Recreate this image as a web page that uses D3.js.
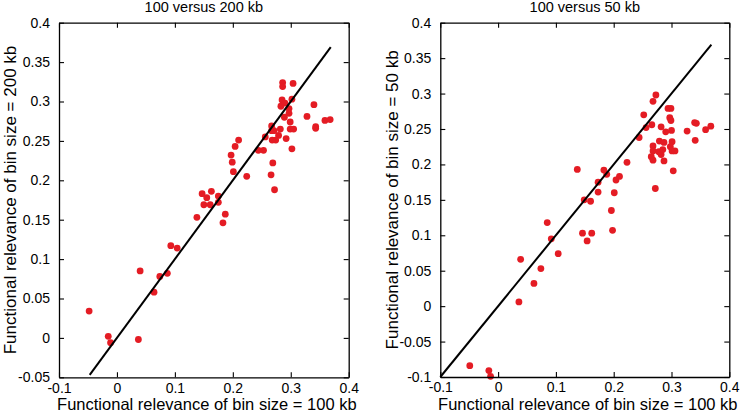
<!DOCTYPE html>
<html>
<head>
<meta charset="utf-8">
<script src="https://cdn.jsdelivr.net/npm/d3@7"></script>
<style>
  html, body { margin: 0; padding: 0; background: #fff; }
  svg { display: block; font-family: "Liberation Sans", Arial, Helvetica, sans-serif; }
</style>
</head>
<body>
<svg id="chart" width="745" height="414"></svg>
<script>
// ---------- data ----------
const titles = ["100 versus 200 kb", "100 versus 50 kb"];
const xLabels = ["Functional relevance of bin size = 100 kb", "Functional relevance of bin size = 100 kb"];
const yLabels = ["Functional relevance of bin size = 200 kb", "Functional relevance of bin size = 50 kb"];

const leftX = [0.286,0.286,0.304,0.285,0.283,0.302,0.297,0.297,0.299,0.328,0.340,0.343,0.343,0.359,0.368,
  0.267,0.267,0.282,0.299,0.305,0.279,0.274,0.268,0.256,0.292,0.302,0.253,0.244,0.210,0.204,0.197,0.199,
  0.201,0.224,0.269,0.266,0.272,0.147,0.155,0.163,0.175,0.150,0.161,0.175,0.138,0.183,0.187,0.093,0.104,
  0.040,0.074,0.087,0.064,-0.048,-0.015,-0.011,0.037,0.289,0.290,0.271];
const leftY = [0.324,0.319,0.323,0.302,0.294,0.303,0.291,0.285,0.274,0.281,0.296,0.268,0.266,0.276,0.277,
  0.269,0.263,0.265,0.265,0.265,0.257,0.251,0.251,0.255,0.253,0.240,0.238,0.238,0.251,0.243,0.232,0.223,
  0.211,0.205,0.222,0.207,0.188,0.183,0.178,0.186,0.180,0.169,0.169,0.172,0.153,0.146,0.157,0.117,0.114,
  0.085,0.078,0.082,0.058,0.034,0.002,-0.006,-0.002,0.280,0.298,0.263];

const rightX = [0.137,0.183,0.188,0.173,0.204,0.210,0.223,0.173,0.201,0.149,0.160,0.196,0.244,0.252,0.256,
  0.268,0.273,0.266,0.294,0.299,0.297,0.299,0.282,0.300,0.290,0.327,0.340,0.343,0.359,0.368,0.341,0.279,
  0.287,0.301,0.268,0.268,0.278,0.282,0.285,0.298,0.301,0.306,0.265,0.268,0.287,0.303,0.272,0.085,0.092,
  0.146,0.162,0.154,0.198,0.104,0.039,0.074,0.062,0.036,-0.049,-0.016,-0.013];
const rightY = [0.193,0.192,0.186,0.175,0.178,0.183,0.203,0.161,0.160,0.150,0.148,0.135,0.238,0.270,0.252,
  0.289,0.298,0.256,0.279,0.279,0.266,0.262,0.253,0.248,0.246,0.247,0.259,0.258,0.249,0.254,0.234,0.233,
  0.231,0.232,0.226,0.219,0.218,0.214,0.221,0.225,0.219,0.219,0.211,0.206,0.205,0.191,0.166,0.118,0.095,
  0.103,0.103,0.092,0.107,0.074,0.066,0.053,0.032,0.006,-0.084,-0.091,-0.099];

const lineLeft = [-0.047, 0.369];
const lineRight = [-0.1, 0.369];

const xTicks = [-0.1, 0, 0.1, 0.2, 0.3, 0.4];
const xTickLabels = ["-0.1", "0", "0.1", "0.2", "0.3", "0.4"];
const yTicksLeft = [-0.05, 0, 0.05, 0.1, 0.15, 0.2, 0.25, 0.3, 0.35, 0.4];
const yTickLabelsLeft = ["-0.05", "0", "0.05", "0.1", "0.15", "0.2", "0.25", "0.3", "0.35", "0.4"];
const yTicksRight = [-0.1, -0.05, 0, 0.05, 0.1, 0.15, 0.2, 0.25, 0.3, 0.35, 0.4];
const yTickLabelsRight = ["-0.1", "-0.05", "0", "0.05", "0.1", "0.15", "0.2", "0.25", "0.3", "0.35", "0.4"];

// ---------- layout ----------
const panels = [
  { left: 59, right: 348.7, top: 22.7, bottom: 377.3, yDomain: [-0.05, 0.4],
    xs: leftX, ys: leftY, line: lineLeft, yTicks: yTicksLeft, yTickLabels: yTickLabelsLeft,
    title: titles[0], xLabel: xLabels[0], yLabel: yLabels[0], yLabelX: 15.5 },
  { left: 440.3, right: 729.3, top: 22.7, bottom: 377.0, yDomain: [-0.1, 0.4],
    xs: rightX, ys: rightY, line: lineRight, yTicks: yTicksRight, yTickLabels: yTickLabelsRight,
    title: titles[1], xLabel: xLabels[1], yLabel: yLabels[1], yLabelX: 397.5 }
];

const svg = d3.select("#chart");
const dotColor = "#e41c24";
const tickLen = 5;

panels.forEach(p => {
  const x = d3.scaleLinear().domain([-0.1, 0.4]).range([p.left, p.right]);
  const y = d3.scaleLinear().domain(p.yDomain).range([p.bottom, p.top]);
  const g = svg.append("g");

  // points
  g.selectAll("circle.pt").data(d3.range(p.xs.length)).join("circle")
    .attr("class", "pt")
    .attr("cx", i => x(p.xs[i]))
    .attr("cy", i => y(p.ys[i]))
    .attr("r", 3.4)
    .attr("fill", dotColor);

  // y = x line
  g.append("line")
    .attr("x1", x(p.line[0])).attr("y1", y(p.line[0]))
    .attr("x2", x(p.line[1])).attr("y2", y(p.line[1]))
    .attr("stroke", "#000").attr("stroke-width", 2);

  // axes (box with inward ticks)
  const fmtX = (d, i) => xTickLabels[i];
  const fmtY = (d, i) => p.yTickLabels[i];

  const axB = d3.axisBottom(x).tickValues(xTicks).tickFormat(fmtX).tickSizeInner(-tickLen).tickSizeOuter(0).tickPadding(5.5);
  const axT = d3.axisTop(x).tickValues(xTicks).tickFormat("").tickSizeInner(-tickLen).tickSizeOuter(0);
  const axL = d3.axisLeft(y).tickValues(p.yTicks).tickFormat(fmtY).tickSizeInner(-tickLen).tickSizeOuter(0).tickPadding(9);
  const axR = d3.axisRight(y).tickValues(p.yTicks).tickFormat("").tickSizeInner(-tickLen).tickSizeOuter(0);

  const styleAxis = sel => {
    sel.selectAll("path.domain").attr("stroke", "#000").attr("stroke-width", 1.3);
    sel.selectAll(".tick line").attr("stroke", "#000").attr("stroke-width", 1.1);
    sel.selectAll(".tick text").attr("fill", "#000").attr("font-size", 14)
      .attr("font-family", "Liberation Sans, Arial, Helvetica, sans-serif");
  };

  g.append("g").attr("transform", `translate(0,${p.bottom})`).call(axB).call(styleAxis);
  g.append("g").attr("transform", `translate(0,${p.top})`).call(axT).call(styleAxis);
  g.append("g").attr("transform", `translate(${p.left},0)`).call(axL).call(styleAxis);
  g.append("g").attr("transform", `translate(${p.right},0)`).call(axR).call(styleAxis);

  const cx = (p.left + p.right) / 2;
  const cy = (p.top + p.bottom) / 2;

  // title
  g.append("text").attr("x", cx).attr("y", 12)
    .attr("text-anchor", "middle").attr("font-size", 14.5).attr("fill", "#000")
    .text(p.title);

  // x label
  g.append("text").attr("x", cx + 3).attr("y", 410.3)
    .attr("text-anchor", "middle").attr("font-size", 16.5).attr("fill", "#000")
    .text(p.xLabel);

  // y label
  g.append("text")
    .attr("transform", `translate(${p.yLabelX},${cy}) rotate(-90)`)
    .attr("text-anchor", "middle").attr("font-size", 17).attr("fill", "#000")
    .text(p.yLabel);
});
</script>
</body>
</html>
